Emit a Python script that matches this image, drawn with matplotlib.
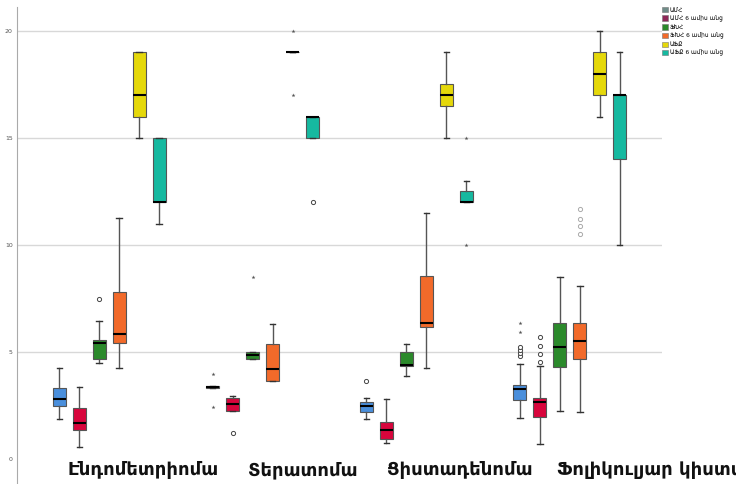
import matplotlib
matplotlib.use("Agg")
import matplotlib.pyplot as plt
from matplotlib.patches import Patch

plt.rcParams['font.family'] = ['DejaVu Sans']

categories = ["Էնդոմետրիոմա", "Տերատոմա", "Ցիստադենոմա", "Ֆոլիկուլյար կիստա"]
series_names = ["ԱՄՀ", "ԱՄՀ 6 ամիս անց", "ՖԽՀ", "ՖԽՀ 6 ամիս անց", "ԱՖՔ", "ԱՖՔ 6 ամիս անց"]
box_colors = ["#4a8fdc", "#d8053c", "#2b8a2b", "#f26a2a", "#e5d80a", "#16b9a0"]
legend_colors = ["#6f8c88", "#8e2858", "#2b8a2b", "#f26a2a", "#e5d80a", "#16b9a0"]

# per series: lists over the 4 categories
whislo = [
    [1.87, 3.30, 1.87, 1.92],
    [0.56, 2.25, 0.75, 0.70],
    [4.49, 4.67, 3.88, 2.24],
    [4.25, 3.65, 4.25, 2.20],
    [15.0, 19.0, 15.0, 16.0],
    [11.0, 15.0, 12.0, 10.0],
]
q1 = [
    [2.48, 3.30, 2.20, 2.76],
    [1.36, 2.25, 0.93, 1.96],
    [4.67, 4.67, 4.35, 4.30],
    [5.42, 3.65, 6.17, 4.67],
    [16.0, 19.0, 16.5, 17.0],
    [12.0, 15.0, 12.0, 14.0],
]
med = [
    [2.80, 3.36, 2.48, 3.27],
    [1.68, 2.57, 1.36, 2.66],
    [5.42, 4.86, 4.39, 5.23],
    [5.84, 4.20, 6.36, 5.51],
    [17.0, 19.0, 17.0, 18.0],
    [12.0, 16.0, 12.0, 17.0],
]
q3 = [
    [3.32, 3.42, 2.66, 3.46],
    [2.38, 2.85, 1.73, 2.85],
    [5.56, 5.00, 5.00, 6.35],
    [7.80, 5.37, 8.55, 6.35],
    [19.0, 19.0, 17.5, 19.0],
    [15.0, 16.0, 12.5, 17.0],
]
whishi = [
    [4.25, 3.42, 2.85, 4.44],
    [3.36, 2.94, 2.80, 4.35],
    [6.45, 5.00, 5.37, 8.50],
    [11.26, 6.30, 11.50, 8.10],
    [19.0, 19.0, 19.0, 20.0],
    [15.0, 16.0, 13.0, 19.0],
]
outliers_circle = [
    [[], [], [3.64], [4.81, 4.95, 5.09, 5.23]],
    [[], [1.21], [], [4.53, 4.90, 5.28, 5.70]],
    [[7.48], [], [], []],
    [[], [], [], [10.5, 10.9, 11.2, 11.7]],
    [[], [], [], []],
    [[], [12.0], [], []],
]
outliers_star = [
    [[], [3.97, 2.43], [], [5.93, 6.35]],
    [[], [], [], []],
    [[], [8.5], [], []],
    [[], [], [], []],
    [[], [20.0, 17.0], [], []],
    [[], [], [10.0, 15.0], []],
]
yticks = [0, 5, 10, 15, 20]
gridlines = [5, 10, 15, 20]

W, H = 736, 484
fig = plt.figure(figsize=(W / 100, H / 100), dpi=100)
ax = fig.add_axes([17 / W, 0, (662 - 17) / W, 477 / H])
ax.set_xlim(-0.6, 3.6)
ax.set_ylim(-1.17, 21.12)

for g in gridlines:
    ax.axhline(g, color="#d8d8d8", lw=1.0, zorder=0)

offset = 0.13
bw = 0.085
for s in range(6):
    stats = []
    pos = []
    for c in range(4):
        stats.append(dict(med=med[s][c], q1=q1[s][c], q3=q3[s][c],
                          whislo=whislo[s][c], whishi=whishi[s][c], fliers=[]))
        pos.append(c + (s - 2.5) * offset)
    ax.bxp(stats, positions=pos, widths=bw, patch_artist=True, showfliers=False,
           capwidths=0.035,
           boxprops=dict(facecolor=box_colors[s], edgecolor="#555555", linewidth=0.8),
           medianprops=dict(color="black", linewidth=1.5),
           whiskerprops=dict(color="#555555", linewidth=1.0),
           capprops=dict(color="#333333", linewidth=1.0),
           manage_ticks=False, zorder=3)
    for c in range(4):
        x = c + (s - 2.5) * offset
        oc = outliers_circle[s][c]
        if oc:
            faint = (s == 3)
            ax.scatter([x] * len(oc), oc, s=9, facecolors="white",
                       edgecolors="#aaaaaa" if faint else "#444444",
                       linewidths=0.7, zorder=4)
        st = outliers_star[s][c]
        if st:
            ax.scatter([x] * len(st), st, s=9, marker="*", color="#555555",
                       linewidths=0, zorder=4)

ax.set_yticks(yticks)
ax.set_yticklabels([str(t) for t in yticks])
ax.tick_params(axis="y", labelsize=4.5, length=0, pad=3, labelcolor="#555555")
ax.set_xticks([])
for sp in ["top", "right", "bottom"]:
    ax.spines[sp].set_visible(False)
ax.spines["left"].set_color("#aaaaaa")
ax.spines["left"].set_linewidth(0.8)

label_x = [68, 248, 387, 557]
for lx, name in zip(label_x, categories):
    fig.text(lx / W, 1 - 470 / H, name, fontsize=13, ha="left", va="center",
             color="#111111", fontweight="bold")

handles = [Patch(facecolor=legend_colors[i], edgecolor="#777777", linewidth=0.4,
                 label=series_names[i]) for i in range(6)]
fig.legend(handles=handles, loc="upper left", bbox_to_anchor=(662 / W, 1 - 7 / H),
           fontsize=4.2, frameon=False, handlelength=1.0, handleheight=1.0,
           handletextpad=0.3, labelspacing=0.45, borderpad=0.0, borderaxespad=0.0)

fig.savefig("out.png", dpi=100)
